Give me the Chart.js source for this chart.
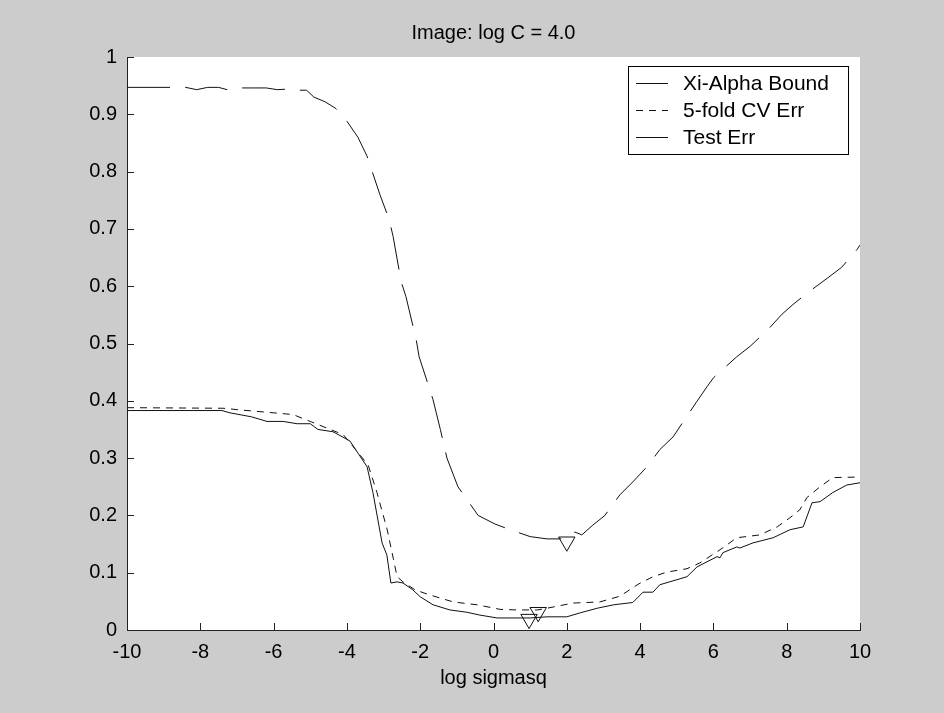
<!DOCTYPE html>
<html>
<head>
<meta charset="utf-8">
<script src="https://cdn.jsdelivr.net/npm/chart.js@4/dist/chart.umd.min.js"></script>
<style>
  html, body { margin: 0; padding: 0; background: #cccccc; }
  #wrap { width: 944px; height: 713px; }
</style>
</head>
<body>
<div id="wrap"><canvas id="c" width="944" height="713"></canvas></div>
<script>
// ---- Data ----
const titleText = 'Image: log C = 4.0';
const xLabel = 'log sigmasq';
const seriesNames = ['Xi-Alpha Bound', '5-fold CV Err', 'Test Err'];

const boundX = [-10, -8.4, -8.1, -7.8, -7.5, -7.27, -7.0, -6.6, -6.2, -5.9, -5.6, -5.3, -5.1, -4.9, -4.6, -4.3, -4.0, -3.7, -3.45, -3.1, -2.85, -2.74, -2.52, -2.39, -2.11, -2.03, -1.65, -1.45, -1.27, -0.97, -0.42, 0.04, 0.37, 1.0, 1.46, 1.81, 2.0, 2.22, 2.41, 2.71, 3.04, 3.45, 3.81, 4.19, 4.54, 4.9, 5.55, 5.83, 6.0, 6.64, 7.0, 7.5, 7.87, 8.17, 8.6, 9.13, 9.5, 9.92, 10];
const boundY = [0.947, 0.947, 0.943, 0.947, 0.947, 0.943, 0.946, 0.946, 0.946, 0.943, 0.944, 0.942, 0.942, 0.93, 0.922, 0.91, 0.888, 0.86, 0.827, 0.76, 0.717, 0.687, 0.608, 0.582, 0.507, 0.477, 0.402, 0.35, 0.3, 0.25, 0.2, 0.185, 0.177, 0.163, 0.159, 0.159, 0.16, 0.171, 0.166, 0.183, 0.2, 0.236, 0.259, 0.285, 0.315, 0.337, 0.399, 0.425, 0.44, 0.477, 0.495, 0.525, 0.551, 0.568, 0.59, 0.615, 0.633, 0.664, 0.672];

const cvX = [-10, -7.38, -6.9, -6.18, -5.47, -5.0, -4.65, -4.1, -3.83, -3.42, -3.18, -2.9, -2.63, -2.47, -2.14, -1.73, -1.1, -0.45, 0.18, 0.64, 1.2, 1.46, 2.17, 2.9, 3.45, 3.95, 4.35, 4.73, 5.28, 5.63, 6.18, 6.64, 7.27, 7.74, 8.09, 8.36, 8.55, 8.91, 9.26, 10];
const cvY = [0.388, 0.387, 0.384, 0.38, 0.376, 0.364, 0.355, 0.341, 0.32, 0.288, 0.24, 0.175, 0.093, 0.084, 0.07, 0.061, 0.049, 0.044, 0.036, 0.035, 0.035, 0.038, 0.047, 0.049, 0.059, 0.08, 0.093, 0.101, 0.107, 0.117, 0.14, 0.161, 0.166, 0.18, 0.196, 0.21, 0.231, 0.25, 0.266, 0.267];

const testX = [-10, -7.41, -7.19, -6.6, -6.18, -5.74, -5.36, -5.0, -4.79, -4.38, -3.92, -3.45, -3.29, -3.04, -2.91, -2.8, -2.63, -2.47, -2.2, -2.0, -1.65, -1.19, -0.73, -0.37, 0.1, 0.64, 1.0, 1.46, 2.0, 2.37, 2.83, 3.28, 3.8, 4.08, 4.35, 4.54, 5.28, 5.55, 6.1, 6.18, 6.26, 6.64, 6.72, 7.08, 7.63, 8.09, 8.45, 8.69, 8.91, 9.26, 9.64, 10];
const testY = [0.383, 0.383, 0.379, 0.372, 0.364, 0.364, 0.36, 0.36, 0.35, 0.346, 0.33, 0.285, 0.24, 0.152, 0.131, 0.082, 0.084, 0.082, 0.07, 0.058, 0.044, 0.035, 0.031, 0.026, 0.021, 0.021, 0.021, 0.023, 0.023, 0.03, 0.038, 0.044, 0.048, 0.066, 0.066, 0.079, 0.093, 0.11, 0.128, 0.126, 0.135, 0.145, 0.143, 0.152, 0.161, 0.175, 0.18, 0.222, 0.224, 0.24, 0.253, 0.257];

// minima markers (downward triangles)
const minX = [2.0, 1.22, 0.97];
const minY = [0.154, 0.031, 0.019];

const xTicks = [-10, -8, -6, -4, -2, 0, 2, 4, 6, 8, 10];
const yTicks = [0, 0.1, 0.2, 0.3, 0.4, 0.5, 0.6, 0.7, 0.8, 0.9, 1];

// ---- Build chart ----
const pts = (xs, ys) => xs.map((x, i) => ({ x: x, y: ys[i] }));
const FONT = "'Liberation Sans', Arial, Helvetica, sans-serif";
const INK = '#000000';

const bgPlugin = {
  id: 'bg',
  beforeDraw(chart) {
    const { ctx, chartArea: a } = chart;
    ctx.save();
    ctx.fillStyle = '#cccccc';
    ctx.fillRect(0, 0, chart.width, chart.height);
    ctx.fillStyle = '#ffffff';
    ctx.fillRect(a.left, a.top, a.right - a.left, a.bottom - a.top);
    ctx.restore();
  }
};

const titlePlugin = {
  id: 'axtitle',
  afterDraw(chart) {
    const { ctx, chartArea: a } = chart;
    ctx.save();
    ctx.font = '20px ' + FONT;
    ctx.fillStyle = INK;
    ctx.textAlign = 'center';
    ctx.textBaseline = 'middle';
    ctx.fillText(titleText, (a.left + a.right) / 2, a.top - 24);
    ctx.restore();
  }
};

const tickPlugin = {
  id: 'inticks',
  afterDraw(chart) {
    const { ctx, chartArea: a, scales } = chart;
    ctx.save();
    ctx.strokeStyle = '#222';
    ctx.lineWidth = 1;
    ctx.beginPath();
    xTicks.forEach(v => {
      const px = Math.round(scales.x.getPixelForValue(v)) + 0.5;
      ctx.moveTo(px, a.bottom);
      ctx.lineTo(px, a.bottom - 7);
    });
    yTicks.forEach(v => {
      const py = Math.round(scales.y.getPixelForValue(v)) + 0.5;
      ctx.moveTo(a.left, py);
      ctx.lineTo(a.left + 7, py);
    });
    ctx.stroke();
    ctx.restore();
  }
};

const legendPlugin = {
  id: 'boxlegend',
  afterDraw(chart) {
    const { ctx, chartArea: a } = chart;
    const right = a.right - 12, top = a.top + 9, w = 220, h = 88;
    const left = right - w;
    ctx.save();
    ctx.fillStyle = '#fff';
    ctx.fillRect(left, top, w, h);
    ctx.strokeStyle = '#000';
    ctx.lineWidth = 1;
    ctx.strokeRect(Math.round(left) + 0.5, Math.round(top) + 0.5, w, h);
    ctx.font = '21px ' + FONT;
    ctx.textBaseline = 'middle';
    ctx.fillStyle = INK;
    const dss = chart.data.datasets;
    seriesNames.forEach((name, i) => {
      const y = top + 17 + i * 27;
      ctx.beginPath();
      ctx.setLineDash(i === 1 ? dss[1].borderDash : []);
      ctx.strokeStyle = '#111';
      ctx.moveTo(left + 8, Math.round(y) + 0.5);
      ctx.lineTo(left + 40, Math.round(y) + 0.5);
      ctx.stroke();
      ctx.setLineDash([]);
      ctx.fillText(name, left + 55, y + 1);
    });
    ctx.restore();
  }
};

new Chart(document.getElementById('c'), {
  type: 'line',
  data: {
    datasets: [
      { label: seriesNames[0], data: pts(boundX, boundY), borderColor: '#111', borderWidth: 1, borderDash: [43, 15], pointRadius: 0, tension: 0, fill: false },
      { label: seriesNames[1], data: pts(cvX, cvY), borderColor: '#111', borderWidth: 1, borderDash: [7, 6], pointRadius: 0, tension: 0, fill: false },
      { label: seriesNames[2], data: pts(testX, testY), borderColor: '#111', borderWidth: 1, pointRadius: 0, tension: 0, fill: false },
      { label: 'minima', type: 'scatter', data: pts(minX, minY), showLine: false, pointStyle: 'triangle', rotation: 180, pointRadius: 9.5, pointBorderWidth: 1, borderColor: '#111', backgroundColor: 'rgba(0,0,0,0)', pointBackgroundColor: 'rgba(0,0,0,0)', pointBorderColor: '#111' }
    ]
  },
  options: {
    responsive: false,
    animation: false,
    layout: { padding: { left: 0, right: 84, top: 57, bottom: 23 } },
    plugins: {
      legend: { display: false },
      tooltip: { enabled: false },
      title: { display: false }
    },
    scales: {
      x: {
        type: 'linear', min: -10, max: 10,
        afterBuildTicks(s) { s.ticks = xTicks.map(v => ({ value: v })); },
        afterFit(s) { s.height = 60; },
        ticks: { color: INK, font: { family: FONT, size: 20 }, padding: 10, maxRotation: 0, autoSkip: false,
          callback: v => String(v) },
        grid: { drawOnChartArea: false, drawTicks: false },
        border: { display: true, color: '#222', width: 1 },
        title: { display: true, text: xLabel, color: INK, font: { family: FONT, size: 20 }, padding: { top: 4, bottom: 0 } }
      },
      y: {
        type: 'linear', min: 0, max: 1,
        afterBuildTicks(s) { s.ticks = yTicks.map(v => ({ value: v })); },
        afterFit(s) { s.width = 127; },
        ticks: { color: INK, font: { family: FONT, size: 20 }, padding: 10, autoSkip: false,
          callback: v => String(Number(v.toFixed(1))) },
        grid: { drawOnChartArea: false, drawTicks: false },
        border: { display: true, color: '#222', width: 1 }
      }
    }
  },
  plugins: [bgPlugin, titlePlugin, tickPlugin, legendPlugin]
});
</script>
</body>
</html>
